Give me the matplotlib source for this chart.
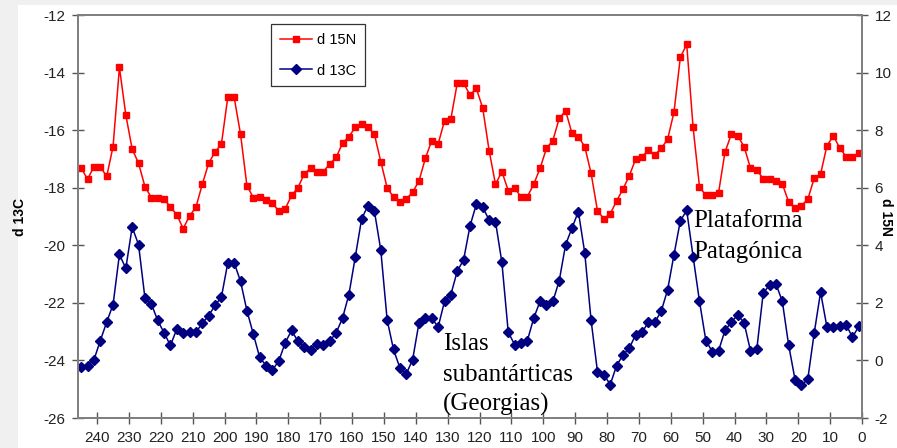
import matplotlib
matplotlib.use("Agg")
import matplotlib.pyplot as plt
from matplotlib.patches import Rectangle

plt.rcParams['font.family'] = ['Liberation Sans', 'DejaVu Sans']
plt.rcParams['axes.unicode_minus'] = False

# edad (ka), de 245 a 1 cada 2
edad = list(range(245, 0, -2))

# d 15N (eje derecho)
d15n = [
    6.68, 6.30, 6.73, 6.73, 6.39, 7.43, 10.18, 8.53, 7.34, 6.85,
    6.04, 5.66, 5.66, 5.60, 5.34, 5.06, 4.58, 5.02, 5.32, 6.12,
    6.85, 7.24, 7.52, 9.14, 9.14, 7.86, 6.07, 5.66, 5.68, 5.58,
    5.46, 5.19, 5.26, 5.73, 6.00,
    6.48, 6.68, 6.56, 6.56, 6.83, 7.05, 7.55, 7.77, 8.10, 8.20,
    8.10, 7.86, 6.91, 6.00, 5.67, 5.52, 5.61, 5.84, 6.24, 7.02,
    7.64, 7.52, 8.32, 8.39, 9.63, 9.63, 9.22, 9.45, 8.76, 7.29,
    6.12, 6.56, 5.90, 5.98, 5.69, 5.69, 6.12, 6.68, 7.37, 7.64,
    8.41, 8.67, 7.89, 7.77, 7.43, 6.50, 5.20,
    4.92, 5.09, 5.54, 5.95, 6.42, 7.00, 7.08, 7.31, 7.14, 7.37,
    7.68, 8.62, 10.53, 10.98, 8.10, 6.04, 5.73, 5.75, 5.83, 7.23,
    7.86, 7.80, 7.43, 6.68, 6.62, 6.31, 6.31, 6.25, 6.13, 5.50,
    5.29, 5.38, 5.60, 6.33, 6.47, 7.46, 7.80, 7.39, 7.08, 7.08,
    7.20,
]

# d 13C (eje izquierdo)
d13c = [
    -24.23, -24.18, -23.98, -23.31, -22.67, -22.06, -20.32, -20.80, -19.37, -19.98,
    -21.83, -22.03, -22.61, -23.04, -23.48, -22.91, -23.05, -23.02, -23.02, -22.71,
    -22.44, -22.09, -21.80, -20.61, -20.61, -21.25, -22.27, -23.08, -23.89, -24.18,
    -24.33, -24.02, -23.39, -22.96, -23.33,
    -23.54, -23.63, -23.42, -23.45, -23.33, -23.04, -22.53, -21.71, -20.41, -19.08,
    -18.62, -18.81, -20.16, -22.59, -23.62, -24.26, -24.47, -23.97, -22.69, -22.53,
    -22.53, -22.84, -21.95, -21.71, -20.90, -20.50, -19.33, -18.57, -18.68, -19.12,
    -19.18, -20.59, -23.02, -23.45, -23.40, -23.31, -22.53, -21.94, -22.06, -21.95,
    -21.23, -19.98, -19.40, -18.83, -20.26, -22.61, -24.39,
    -24.49, -24.84, -24.18, -23.81, -23.57, -23.10, -23.02, -22.67, -22.67, -22.29,
    -21.55, -20.33, -19.15, -18.79, -20.39, -21.94, -23.31, -23.69, -23.66, -22.96,
    -22.67, -22.42, -22.69, -23.66, -23.60, -21.66, -21.38, -21.34, -21.95, -23.48,
    -24.67, -24.87, -24.64, -23.05, -21.63, -22.84, -22.84, -22.82, -22.76, -23.19,
    -22.82,
]

xticks = list(range(240, -1, -10))
yticks_izq = list(range(-26, -11, 2))
yticks_der = list(range(-2, 13, 2))

fig = plt.figure(figsize=(8.97, 4.48), dpi=100, facecolor='#f0f0f0')
fig.patches.append(Rectangle((18 / 897, 0), 1, 1 - 5 / 448, transform=fig.transFigure,
                             facecolor='white', edgecolor='none', zorder=-5))

ax = fig.add_axes([78 / 897, 1 - 418 / 448, 784 / 897, 403 / 448])
ax.set_facecolor('white')
ax2 = ax.twinx()

l13, = ax.plot(edad, d13c, color='#000080', marker='D', markersize=5, linewidth=1.1,
               label='d 13C')
l15, = ax2.plot(edad, d15n, color='#ff0000', marker='s', markersize=5, linewidth=1.1,
                label='d 15N')

ax.set_xlim(246, 0)
ax.set_ylim(-26, -12)
ax2.set_ylim(-2, 12)
ax.set_xticks(xticks)
ax.set_yticks(yticks_izq)
ax2.set_yticks(yticks_der)

for a in (ax, ax2):
    for s in a.spines.values():
        s.set_color('#808080')
        s.set_linewidth(1.4)
ax.tick_params(axis='x', direction='inout', length=8, width=1, color='#555555',
               labelsize=11, pad=5, labelcolor='#222222')
ax.tick_params(axis='y', direction='inout', length=8, width=1, color='#555555',
               labelsize=11, pad=5, labelcolor='#222222')
ax2.tick_params(axis='y', direction='inout', length=8, width=1, color='#555555',
                labelsize=11, pad=5, labelcolor='#222222')

ax.set_ylabel('d 13C', fontsize=10, fontweight='bold')
ax.yaxis.set_label_coords(-0.065, 0.5)
ax2.set_ylabel('d 15N', fontsize=10, fontweight='bold', rotation=270, va='center')
ax2.yaxis.set_label_coords(1.031, 0.5)

leg = ax2.legend(handles=[l15, l13], loc='upper left',
                 bbox_to_anchor=(271 / 897, 1 - 24 / 448), bbox_transform=fig.transFigure,
                 borderaxespad=0, fancybox=False, frameon=True, fontsize=10.5,
                 handlelength=2.2, handletextpad=0.35, labelspacing=1.15,
                 borderpad=0.6, markerscale=1.0)
leg.get_frame().set_edgecolor('black')
leg.get_frame().set_linewidth(0.9)

serif = ['Liberation Serif', 'DejaVu Serif']
for txt, yb in [('Islas', 350), ('subantárticas', 381), ('(Georgias)', 411)]:
    fig.text(443 / 897, 1 - yb / 448, txt, family=serif, fontsize=18,
             ha='left', va='baseline')
for txt, yb in [('Plataforma', 227), ('Patagónica', 258)]:
    fig.text(693 / 897, 1 - yb / 448, txt, family=serif, fontsize=18,
             ha='left', va='baseline')

fig.savefig('out.png', dpi=100, facecolor=fig.get_facecolor())
